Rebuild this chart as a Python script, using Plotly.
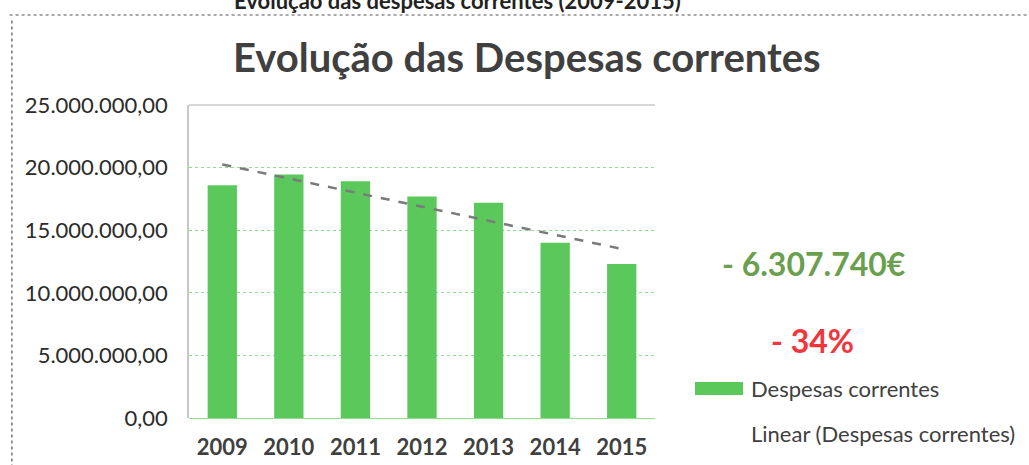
import numpy as np
import plotly.graph_objects as go

# Despesas correntes (EUR)
anos = ["2009", "2010", "2011", "2012", "2013", "2014", "2015"]
despesas = [18600000, 19450000, 18900000, 17700000, 17200000, 14000000, 12300000]

# y tick values
y_ticks = [0, 5000000, 10000000, 15000000, 20000000, 25000000]

# linear trend (Excel "Linear" trendline) fitted on the series
idx = np.arange(len(anos))
slope, intercept = np.polyfit(idx, despesas, 1)
tendencia = slope * idx + intercept

GREEN = "#5bc85b"
DARK = "#404040"
FONT = "Lato"

fig = go.Figure()

fig.add_trace(go.Bar(
    x=anos, y=despesas, name="Despesas correntes",
    marker=dict(color=GREEN, line=dict(width=0)),
))
fig.add_trace(go.Scatter(
    x=anos, y=tendencia, mode="lines", name="Linear (Despesas correntes)",
    line=dict(color="#7a7a7a", width=2.5, dash="dash"),
))

# legend drawn by hand (the scan shows a wide swatch and no line sample)
legend_notes = [
    dict(text="Despesas correntes", xref="paper", yref="paper",
         x=1.2017, y=0.0927, xanchor="left", yanchor="middle", showarrow=False,
         font=dict(family=FONT, size=22, color=DARK)),
    dict(text="Linear (Despesas correntes)", xref="paper", yref="paper",
         x=1.2017, y=-0.048, xanchor="left", yanchor="middle", showarrow=False,
         font=dict(family=FONT, size=22, color=DARK)),
]

fig.update_layout(
    width=1029, height=465,
    margin=dict(l=189, r=374, t=105, b=47, autoexpand=False),
    paper_bgcolor="white", plot_bgcolor="white",
    separators=",.",
    bargap=0.56,
    font=dict(family=FONT, color=DARK),
    title=dict(
        text="<b>Evolução das Despesas correntes</b>",
        x=0.512, xanchor="center", y=0.875, yanchor="middle",
        font=dict(family=FONT, size=40, color=DARK),
    ),
    showlegend=False,
    xaxis=dict(
        showgrid=False, showline=False, ticks="",
        tickfont=dict(family=FONT, size=22, color=DARK, weight="bold"),
        ticklabelstandoff=14,
    ),
    yaxis=dict(
        range=[0, 25000000], tickvals=y_ticks, tickformat=",.2f",
        showgrid=True, gridcolor="#8fdc8f", griddash="dot", gridwidth=1,
        zeroline=True, zerolinecolor="#8fdc8f", zerolinewidth=1,
        showline=True, linecolor="#c8c8c8", linewidth=1.5,
        ticks="", ticklabelstandoff=15,
        tickfont=dict(family=FONT, size=22, color="#2b2b2b"),
    ),
    annotations=[
        dict(text="<b>- 6.307.740€</b>", xref="paper", yref="paper",
             x=1.341, y=0.495, xanchor="center", yanchor="middle", showarrow=False,
             font=dict(family=FONT, size=32, color="#6a9f50")),
        dict(text="<b>- 34%</b>", xref="paper", yref="paper",
             x=1.339, y=0.249, xanchor="center", yanchor="middle", showarrow=False,
             font=dict(family=FONT, size=32, color="#f0363c")),
        dict(text="<b>Evolução das despesas correntes (2009-2015)</b>", xref="paper", yref="paper",
             x=0.092, y=1.335, xanchor="left", yanchor="middle", showarrow=False,
             font=dict(family=FONT, size=22, color="#222222")),
    ] + legend_notes,
    shapes=[
        # scanned frame: top and left dotted border
        dict(type="line", xref="paper", yref="paper", x0=-0.385, x1=1.8, y0=1.2875, y1=1.2875,
             line=dict(color="#555555", width=1.2, dash="dot")),
        dict(type="line", xref="paper", yref="paper", x0=-0.38, x1=-0.38, y0=1.27, y1=-0.16,
             line=dict(color="#555555", width=1.2, dash="dot")),
        # top border of the plot area
        dict(type="line", xref="paper", yref="paper", x0=0, x1=1, y0=1, y1=1,
             line=dict(color="#d8d8d8", width=2)),
        # legend swatch
        dict(type="rect", xref="paper", yref="paper", x0=1.0858, x1=1.1888, y0=0.0735, y1=0.115,
             fillcolor=GREEN, line=dict(width=0)),
    ],
)

# the page body has an 8px default margin; drop it so the figure sits at (0, 0)
fig.write_html("out.html", config={"displayModeBar": False},
               post_script="document.body.style.margin='0';")
